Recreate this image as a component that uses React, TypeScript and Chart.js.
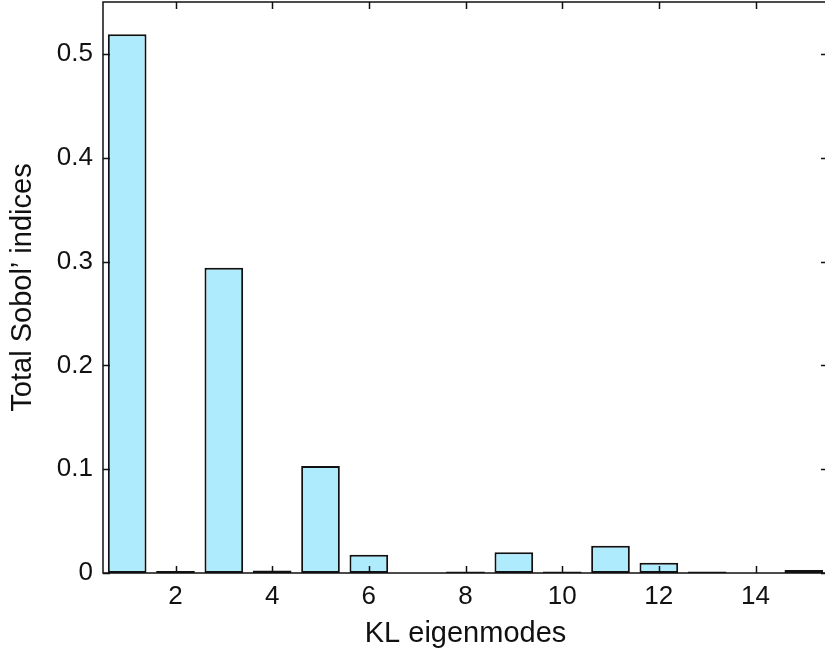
import React, { useRef, useEffect } from 'react';
import { Chart, registerables } from 'chart.js';

Chart.register(...registerables);

// KL eigenmode index and its total Sobol' index
const modes = ['1', '2', '3', '4', '5', '6', '7', '8', '9', '10', '11', '12', '13', '14', '15'];
const sobolTotal = [0.519, 0.002, 0.294, 0.0025, 0.103, 0.0176, 0, 0.0015, 0.02, 0.0015, 0.0263, 0.0099, 0.0015, 0, 0.003];
const xTickModes = [2, 4, 6, 8, 10, 12, 14];
const yTickValues = [0, 0.1, 0.2, 0.3, 0.4, 0.5];

const FONT = "'Liberation Sans', Arial, sans-serif";
const INK = '#111';

// draws the matlab-like axes box with inward ticks
const axesBox = {
  id: 'axesBox',
  afterDatasetsDraw(chart: any) {
    const { ctx, chartArea: a, scales } = chart;
    const tl = 7;
    ctx.save();
    ctx.strokeStyle = INK;
    ctx.lineWidth = 1.5;
    ctx.strokeRect(a.left, a.top, a.right - a.left, a.bottom - a.top);
    ctx.beginPath();
    yTickValues.forEach(v => {
      const y = Math.round(scales.y.getPixelForValue(v)) + 0.5;
      ctx.moveTo(a.left, y);
      ctx.lineTo(a.left + tl, y);
      ctx.moveTo(a.right, y);
      ctx.lineTo(a.right - tl, y);
    });
    xTickModes.forEach(m => {
      const x = Math.round(scales.x.getPixelForValue(m - 1)) + 0.5;
      ctx.moveTo(x, a.bottom);
      ctx.lineTo(x, a.bottom - tl);
      ctx.moveTo(x, a.top);
      ctx.lineTo(x, a.top + tl);
    });
    ctx.stroke();
    ctx.restore();
  }
};

const SobolChart: React.FC = () => {
  const canvasRef = useRef<HTMLCanvasElement>(null);
  const chartRef = useRef<Chart | null>(null);

  useEffect(() => {
    if (!canvasRef.current) return;
    if (chartRef.current) chartRef.current.destroy();

    chartRef.current = new Chart(canvasRef.current, {
      type: 'bar',
      data: {
        labels: modes,
        datasets: [
          {
            data: sobolTotal,
            backgroundColor: 'rgb(174, 235, 252)',
            borderColor: INK,
            borderWidth: 2,
            borderSkipped: false,
            barPercentage: 0.8,
            categoryPercentage: 1
          }
        ]
      },
      options: {
        animation: false,
        responsive: true,
        maintainAspectRatio: false,
        layout: { padding: { top: 2, right: 4, left: 0, bottom: 0 } },
        plugins: {
          legend: { display: false },
          tooltip: { enabled: false }
        },
        scales: {
          x: {
            type: 'category',
            offset: true,
            grid: { display: false, drawTicks: false },
            border: { display: false },
            afterFit: (scale: any) => {
              scale.height = 81;
              scale.paddingLeft = 0;
              scale.paddingRight = 0;
            },
            ticks: {
              autoSkip: false,
              maxRotation: 0,
              padding: 8,
              color: INK,
              font: { family: FONT, size: 26 },
              callback: (_v: any, i: number) => (xTickModes.includes(i + 1) ? modes[i] : '')
            },
            title: {
              display: true,
              text: 'KL eigenmodes',
              color: INK,
              font: { family: FONT, size: 29 },
              padding: { bottom: 3, top: 0 }
            }
          },
          y: {
            min: 0,
            max: 0.55,
            grid: { display: false, drawTicks: false },
            border: { display: false },
            afterFit: (scale: any) => {
              scale.width = 103;
              scale.paddingTop = 0;
              scale.paddingBottom = 0;
            },
            afterBuildTicks: (scale: any) => { scale.ticks = yTickValues.map(v => ({ value: v })); },
            ticks: {
              padding: 10,
              color: INK,
              font: { family: FONT, size: 26 },
              callback: (v: any) => String(Number(v).toFixed(1)).replace(/^0\.0$/, '0')
            },
            title: {
              display: true,
              text: 'Total Sobol\u2019 indices',
              color: INK,
              font: { family: FONT, size: 29 },
              padding: { top: 6, bottom: 0 }
            }
          }
        }
      },
      plugins: [axesBox]
    } as any);

    return () => {
      if (chartRef.current) {
        chartRef.current.destroy();
        chartRef.current = null;
      }
    };
  }, []);

  return (
    <div style={{ position: 'absolute', left: 0, top: 0, width: '825px', height: '654px', overflow: 'hidden', background: '#fff' }}>
      <div style={{ width: '832px', height: '654px', position: 'relative' }}>
        <canvas ref={canvasRef}></canvas>
      </div>
    </div>
  );
};

export default function App() {
  return <SobolChart />;
}
